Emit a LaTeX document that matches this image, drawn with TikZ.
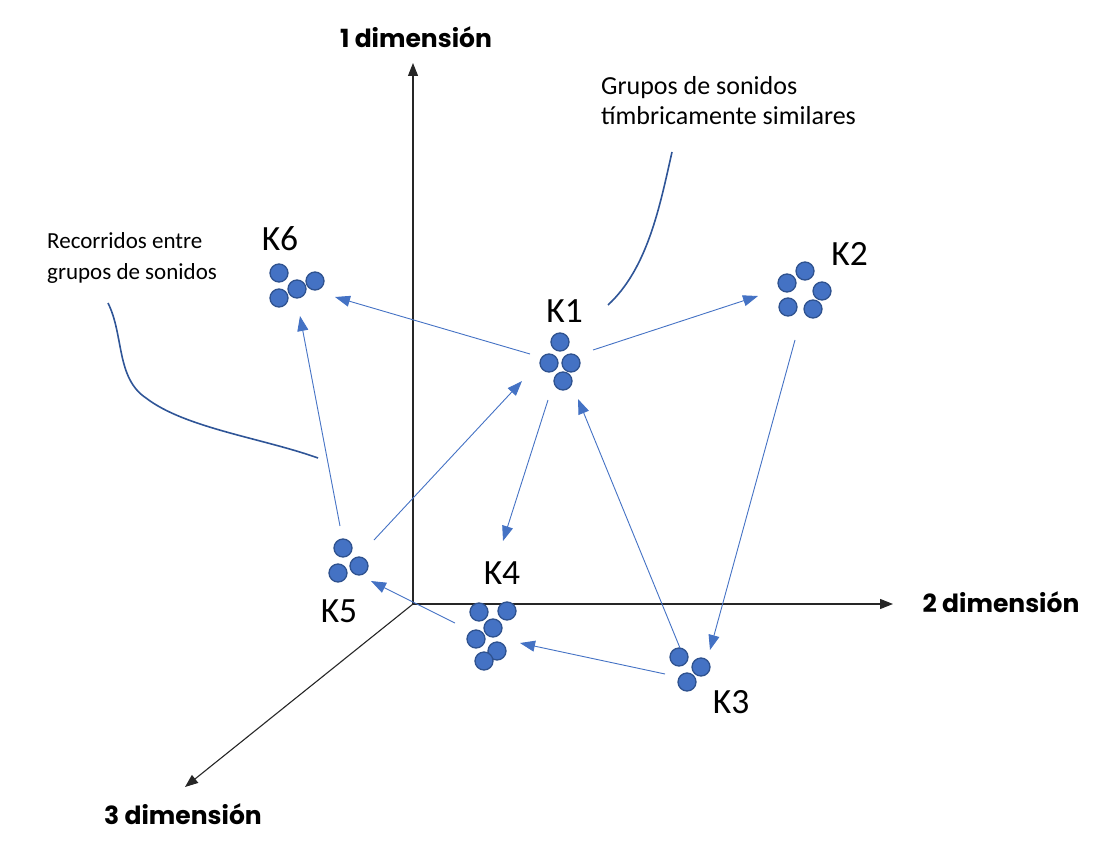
\documentclass[tikz,border=0pt]{standalone}
\usepackage{fontspec}
\setmainfont{Carlito}
\newfontfamily\axfont{Poppins}
\usetikzlibrary{arrows.meta}
\definecolor{dotfill}{HTML}{4472C4}
\definecolor{dotline}{HTML}{2F528F}
\definecolor{callout}{HTML}{2F5597}
\tikzset{
  dot/.style={circle,fill=dotfill,draw=dotline,line width=1.3pt,minimum size=18pt,inner sep=0pt},
  klabel/.style={font=\fontsize{35.5}{37}\selectfont,inner sep=0pt},
  axlabel/.style={font=\axfont\bfseries\fontsize{25}{27}\selectfont,inner sep=0pt},
  note/.style={align=left,inner sep=0pt,anchor=north west},
  axis/.style={line width=1.1pt,black!85,-{Triangle[length=13pt,width=10pt]}},
  path/.style={line width=0.9pt,dotfill,-{Triangle[length=15pt,width=11pt]}},
  calloutline/.style={line width=1.6pt,callout}
}
\begin{document}
\begin{tikzpicture}[x=1pt,y=-1pt]
\useasboundingbox (0,0) rectangle (1110,856);
% axes
\coordinate (o) at (413,604);
\coordinate (ax1) at (413,63);
\coordinate (ax2) at (893,604);
\coordinate (ax3) at (185,787);
\draw[axis] (o) -- (ax1);
\draw[axis] (o) -- (ax2);
\draw[axis] (o) -- (ax3);
\node[axlabel] (l1) at (416,37) {1 dimensión};
\node[axlabel] (l2) at (1001,602) {2 dimensión};
\node[axlabel] (l3) at (183,814) {3 dimensión};
% clusters
% K6
\node[dot] (k6a) at (279,273) {};
\node[dot] (k6b) at (279,298) {};
\node[dot] (k6c) at (297,289) {};
\node[dot] (k6d) at (315,281) {};
\node[klabel] (k6) at (280,238.5) {K6};
% K1
\node[dot] (k1a) at (560,342) {};
\node[dot] (k1b) at (549,363) {};
\node[dot] (k1c) at (571,363) {};
\node[dot] (k1d) at (563,381) {};
\node[klabel] (k1) at (564.5,311) {K1};
% K2
\node[dot] (k2a) at (805,271) {};
\node[dot] (k2b) at (787,283) {};
\node[dot] (k2c) at (822,291) {};
\node[dot] (k2d) at (788,307) {};
\node[dot] (k2e) at (813,309) {};
\node[klabel] (k2) at (849.5,253.5) {K2};
% K5
\node[dot] (k5a) at (343,548) {};
\node[dot] (k5b) at (359,566) {};
\node[dot] (k5c) at (338,573) {};
\node[klabel] (k5) at (339,611.5) {K5};
% K4
\node[dot] (k4a) at (479,612) {};
\node[dot] (k4b) at (507,611) {};
\node[dot] (k4c) at (493,628) {};
\node[dot] (k4d) at (476,639) {};
\node[dot] (k4e) at (497,651) {};
\node[dot] (k4f) at (484,661) {};
\node[klabel] (k4) at (502,573.3) {K4};
% K3
\node[dot] (k3a) at (679,657) {};
\node[dot] (k3b) at (701,667) {};
\node[dot] (k3c) at (687,682) {};
\node[klabel] (k3) at (731,702) {K3};
% connector end points
\coordinate (p16s) at (530,354); \coordinate (p16e) at (335,297);
\coordinate (p12s) at (593,350); \coordinate (p12e) at (758,296);
\coordinate (p14s) at (548,400); \coordinate (p14e) at (503,541);
\coordinate (p51s) at (374,540); \coordinate (p51e) at (522,381);
\coordinate (p56s) at (340,526); \coordinate (p56e) at (300,316);
\coordinate (p45s) at (455,623); \coordinate (p45e) at (371,581);
\coordinate (p34s) at (665,674); \coordinate (p34e) at (520,643);
\coordinate (p31s) at (680,648); \coordinate (p31e) at (578,399);
\coordinate (p23s) at (795,340); \coordinate (p23e) at (710,650);
\draw[path] (p16s) -- (p16e);
\draw[path] (p12s) -- (p12e);
\draw[path] (p14s) -- (p14e);
\draw[path] (p51s) -- (p51e);
\draw[path] (p56s) -- (p56e);
\draw[path] (p45s) -- (p45e);
\draw[path] (p34s) -- (p34e);
\draw[path] (p31s) -- (p31e);
\draw[path] (p23s) -- (p23e);
% notes
\node[note,font=\fontsize{23}{31}\selectfont] (n1) at (47,232) {Recorridos entre\\grupos de sonidos};
\node[note,font=\fontsize{26}{30}\selectfont] (n2) at (601,76) {Grupos de sonidos\\tímbricamente similares};
\coordinate (c1s) at (108,303); \coordinate (c1e) at (318,458);
\coordinate (c2s) at (672,152); \coordinate (c2e) at (608,305);
\draw[calloutline] (c1s) .. controls (124,335) and (116,378) .. (146,398) .. controls (185,428) and (262,438) .. (c1e);
\draw[calloutline] (c2s) .. controls (660,205) and (648,268) .. (c2e);
\end{tikzpicture}
\end{document}
